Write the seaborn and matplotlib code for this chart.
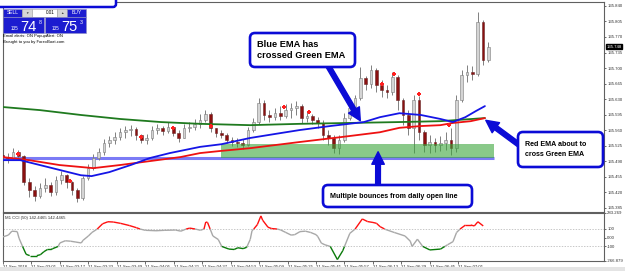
import numpy as np
import matplotlib
matplotlib.use("Agg")
import matplotlib.pyplot as plt
import seaborn as sns
from matplotlib.patches import FancyBboxPatch, Rectangle
from matplotlib.collections import LineCollection
from matplotlib.transforms import IdentityTransform

# ---------------- data ----------------
# 3-minute candles, minutes after 02:45 on 21 Sep 2018
candle_minutes = list(range(0, 276, 3))
opens = [135.503, 135.499, 135.497, 135.510, 135.501, 135.443, 135.424, 135.411, 135.429, 135.436,
         135.420, 135.447, 135.458, 135.443, 135.424, 135.406, 135.452, 135.474, 135.497, 135.510,
         135.531, 135.537, 135.544, 135.555, 135.560, 135.562, 135.549, 135.537, 135.542, 135.560,
         135.565, 135.558, 135.567, 135.553, 135.542, 135.565, 135.567, 135.574, 135.583, 135.596,
         135.565, 135.553, 135.549, 135.537, 135.533, 135.531, 135.526, 135.560, 135.578, 135.621,
         135.594, 135.589, 135.598, 135.592, 135.605, 135.610, 135.614, 135.587, 135.592, 135.583,
         135.576, 135.549, 135.542, 135.519, 135.537, 135.587, 135.610, 135.632, 135.677, 135.664,
         135.696, 135.662, 135.650, 135.646, 135.680, 135.628, 135.594, 135.565, 135.628, 135.555,
         135.526, 135.533, 135.526, 135.531, 135.537, 135.519, 135.628, 135.684, 135.691, 135.686,
         135.804, 135.718]
closes = [135.499, 135.497, 135.510, 135.501, 135.443, 135.424, 135.411, 135.429, 135.436, 135.420,
          135.447, 135.458, 135.443, 135.424, 135.406, 135.452, 135.474, 135.497, 135.510, 135.531,
          135.537, 135.544, 135.555, 135.560, 135.562, 135.549, 135.537, 135.542, 135.560, 135.565,
          135.558, 135.567, 135.553, 135.542, 135.565, 135.567, 135.574, 135.583, 135.596, 135.565,
          135.553, 135.549, 135.537, 135.533, 135.531, 135.526, 135.560, 135.578, 135.621, 135.594,
          135.589, 135.598, 135.592, 135.605, 135.610, 135.614, 135.587, 135.592, 135.583, 135.576,
          135.549, 135.542, 135.519, 135.537, 135.587, 135.610, 135.632, 135.677, 135.664, 135.696,
          135.662, 135.650, 135.646, 135.680, 135.628, 135.594, 135.565, 135.628, 135.555, 135.526,
          135.533, 135.526, 135.531, 135.537, 135.519, 135.628, 135.684, 135.691, 135.686, 135.804,
          135.718, 135.748]
highs = [135.510, 135.508, 135.519, 135.515, 135.504, 135.452, 135.434, 135.440, 135.452, 135.443,
         135.456, 135.467, 135.461, 135.445, 135.429, 135.456, 135.483, 135.506, 135.519, 135.540,
         135.546, 135.555, 135.565, 135.569, 135.571, 135.567, 135.551, 135.551, 135.569, 135.574,
         135.569, 135.578, 135.569, 135.560, 135.574, 135.578, 135.585, 135.596, 135.605, 135.601,
         135.565, 135.560, 135.553, 135.544, 135.542, 135.540, 135.567, 135.587, 135.632, 135.628,
         135.605, 135.610, 135.614, 135.619, 135.621, 135.625, 135.619, 135.601, 135.596, 135.589,
         135.583, 135.560, 135.549, 135.549, 135.598, 135.619, 135.639, 135.702, 135.682, 135.707,
         135.700, 135.673, 135.662, 135.691, 135.684, 135.632, 135.605, 135.639, 135.637, 135.560,
         135.549, 135.542, 135.546, 135.555, 135.565, 135.639, 135.696, 135.707, 135.705, 135.826,
         135.808, 135.759]
lows = [135.488, 135.485, 135.492, 135.492, 135.436, 135.409, 135.400, 135.406, 135.420, 135.411,
        135.413, 135.438, 135.429, 135.413, 135.397, 135.402, 135.447, 135.470, 135.492, 135.504,
        135.522, 135.528, 135.537, 135.542, 135.546, 135.537, 135.531, 135.528, 135.537, 135.551,
        135.549, 135.553, 135.546, 135.533, 135.542, 135.555, 135.560, 135.565, 135.578, 135.555,
        135.544, 135.542, 135.531, 135.524, 135.522, 135.517, 135.524, 135.555, 135.574, 135.583,
        135.578, 135.583, 135.583, 135.587, 135.587, 135.594, 135.576, 135.578, 135.574, 135.565,
        135.537, 135.526, 135.508, 135.506, 135.533, 135.583, 135.605, 135.628, 135.650, 135.655,
        135.646, 135.635, 135.632, 135.639, 135.605, 135.571, 135.549, 135.508, 135.537, 135.510,
        135.508, 135.510, 135.513, 135.515, 135.504, 135.510, 135.623, 135.668, 135.673, 135.682,
        135.707, 135.714]

ema_blue_t = [0, 10, 21, 32, 44, 50, 60, 72, 83, 94, 111, 123, 139, 156, 167, 184, 203, 212, 223, 235, 246, 253, 260, 266, 271]
ema_blue_v = [135.492, 135.492, 135.481, 135.470, 135.458, 135.456, 135.465, 135.481, 135.497, 135.508,
              135.522, 135.528, 135.542, 135.553, 135.560, 135.569, 135.578, 135.589, 135.598, 135.594,
              135.585, 135.578, 135.589, 135.603, 135.614]
ema_red_t = [0, 15, 32, 51, 66, 83, 100, 111, 123, 139, 167, 190, 212, 223, 235, 246, 253, 263, 271]
ema_red_v = [135.499, 135.492, 135.481, 135.474, 135.481, 135.490, 135.499, 135.508, 135.513, 135.519,
             135.533, 135.544, 135.555, 135.565, 135.569, 135.571, 135.576, 135.580, 135.587]
ema_green_t = [0, 21, 44, 66, 89, 111, 139, 167, 195, 223, 246, 271]
ema_green_v = [135.612, 135.605, 135.594, 135.585, 135.578, 135.574, 135.571, 135.574, 135.576, 135.578,
               135.580, 135.587]

daily_open = 135.498
daily_open_end = 276
zone_low, zone_high = 135.497, 135.528
zone_start, zone_end = 123, 276

signal_t = [9, 38, 78, 96, 117, 158, 172, 213, 220, 234, 251]
signal_p = [135.506, 135.445, 135.544, 135.565, 135.569, 135.612, 135.601, 135.664, 135.686, 135.641, 135.571]

cci_t = [0, 3, 5, 8, 9, 11, 13, 15, 19, 21, 23, 25, 27, 28, 31, 32, 35, 38, 41, 44, 45, 48, 50, 53, 56,
         59, 62, 66, 71, 75, 77, 80, 86, 91, 97, 100, 103, 105, 108, 111, 113, 114, 115, 118, 121, 123,
         127, 130, 132, 135, 137, 139, 140, 141, 143, 145, 146, 149, 151, 154, 156, 159, 162, 164, 167,
         170, 173, 176, 177, 179, 181, 184, 188, 191, 195, 198, 202, 205, 208, 210, 212, 215, 220, 226,
         229, 230, 233, 236, 240, 246, 250, 253, 255, 257, 260, 263, 265, 267, 270]
cci_v = [10, 30, 75, 70, -5, -100, -190, -205, -205, -195, -160, -135, -135, -125, -100, -60, -35, -40,
         -50, -60, -30, 20, 60, 100, 160, 183, 180, 165, 140, 115, 100, 85, 80, 85, 88, 75, 100, 110, 100,
         85, 100, 180, 175, 20, -20, -100, -130, -135, -115, -125, -110, -20, 80, 100, 150, 250, 200, 120,
         105, 100, 90, 60, 30, 35, 70, 75, 60, 35, 13, -62, -81, -100, -250, -150, 50, 100, 215, 185, 175,
         165, 127, 95, 60, 20, -40, -100, -17, -100, -140, -130, -80, -45, 60, 100, 145, 145, 135, 183, 135]
cci_min, cci_max = -266.879, 283.269

price_ticks = [135.840, 135.805, 135.770, 135.735, 135.700, 135.665, 135.630, 135.595,
               135.560, 135.525, 135.490, 135.455, 135.420, 135.385]
cci_ticks = [283.269, 100, 0, -100, -266.879]
cci_tick_labels = ["283.269", "100", "0.00", "-100", "-266.879"]
time_ticks = [0, 16, 32, 48, 64, 80, 96, 112, 128, 144, 160, 176, 192, 208, 224, 240, 256]
time_labels = ["21 Sep 2018", "21 Sep 03:01", "21 Sep 03:17", "21 Sep 03:33", "21 Sep 03:49",
               "21 Sep 04:05", "21 Sep 04:21", "21 Sep 04:37", "21 Sep 04:53", "21 Sep 05:09",
               "21 Sep 05:25", "21 Sep 05:41", "21 Sep 05:57", "21 Sep 06:13", "21 Sep 06:29",
               "21 Sep 06:45", "21 Sep 07:01"]

# ---------------- figure ----------------
sns.set_theme(style="white")
plt.rcParams['font.family'] = ['Liberation Sans', 'DejaVu Sans']
W, H = 625, 271
fig = plt.figure(figsize=(W / 100, H / 100), dpi=100)
fig.patch.set_facecolor("white")

def fb(x0, y0, x1, y1):
    return [x0 / W, 1 - y1 / H, (x1 - x0) / W, (y1 - y0) / H]

ax = fig.add_axes(fb(3, 2, 604, 212))
ax2 = fig.add_axes(fb(3, 213, 604, 261))

for a in (ax, ax2):
    a.set_facecolor("white")
    for s in a.spines.values():
        s.set_color("#606060")
        s.set_linewidth(0.8)

SMALL = 3.1

# candles
o = np.array(opens); c = np.array(closes); h = np.array(highs); l = np.array(lows)
t = np.array(candle_minutes)
ax.vlines(t, l, h, color="#808080", lw=0.7, zorder=3)
bull = c >= o
ax.bar(t[bull], np.maximum(c - o, 0.0008)[bull], bottom=o[bull], width=1.5,
       color="#d4d4d4", edgecolor="#7a7a7a", lw=0.4, zorder=4)
ax.bar(t[~bull], np.maximum(o - c, 0.0008)[~bull], bottom=c[~bull], width=1.5,
       color="#8b1010", edgecolor="#6a2a2a", lw=0.4, zorder=4)

# daily open line and bounce zone
ax.hlines(daily_open, 0, daily_open_end, color="#7b7bf5", lw=2.2, zorder=2)
ax.add_patch(Rectangle((zone_start, zone_low), zone_end - zone_start, zone_high - zone_low,
                       facecolor="#3aa53a", alpha=0.6, edgecolor="none", zorder=5))

# EMAs
sns.lineplot(x=ema_green_t, y=ema_green_v, ax=ax, color="#1f7a1f", lw=1.3, zorder=6)
sns.lineplot(x=ema_red_t, y=ema_red_v, ax=ax, color="#ee1111", lw=1.3, zorder=6)
sns.lineplot(x=ema_blue_t, y=ema_blue_v, ax=ax, color="#1515e6", lw=1.3, zorder=7)

# signals
ax.scatter(signal_t, signal_p, marker="P", s=7, color="#ff2020", linewidths=0, zorder=8)

ax.set_xlim(0.3, 337.9)
ax.set_ylim(135.375, 135.849)
ax.set_xticks([])
ax.set_xlabel(""); ax.set_ylabel("")
ax.yaxis.tick_right()
ax.set_yticks(price_ticks)
ax.set_yticklabels([f"{v:.3f}" for v in price_ticks])
ax.tick_params(axis="y", which="both", right=True, length=1.5, width=0.5, pad=0.8,
               labelsize=SMALL, colors="#303030")

# current price label
ax.annotate(f"{closes[-1]:.3f}", xy=(1.0, closes[-1]), xycoords=("axes fraction", "data"),
            xytext=(1.8, 0), textcoords="offset points", ha="left", va="center",
            fontsize=SMALL, color="white",
            bbox=dict(boxstyle="square,pad=0.12", fc="black", ec="black"), zorder=10,
            annotation_clip=False)

# CCI panel
def split_levels(tt, vv, levels=(100, -100)):
    xs = [tt[0]]; ys = [vv[0]]
    for i in range(1, len(tt)):
        t0, t1, v0, v1 = tt[i - 1], tt[i], vv[i - 1], vv[i]
        cr = []
        for L in levels:
            if (v0 - L) * (v1 - L) < 0:
                f = (L - v0) / (v1 - v0)
                cr.append((f, t0 + f * (t1 - t0), L))
        for f, x, y in sorted(cr):
            xs.append(x); ys.append(y)
        xs.append(t1); ys.append(v1)
    return np.array(xs), np.array(ys)

xs, ys = split_levels(cci_t, cci_v)
segs, cols = [], []
for i in range(len(xs) - 1):
    segs.append([(xs[i], ys[i]), (xs[i + 1], ys[i + 1])])
    mid = (ys[i] + ys[i + 1]) / 2
    cols.append("#ff1010" if mid > 100 else ("#0a7a0a" if mid < -100 else "#a8a8a8"))
ax2.add_collection(LineCollection(segs, colors=cols, linewidths=1.0, zorder=3))
for lv in (100, -100):
    ax2.axhline(lv, color="#b0b0b0", lw=0.5, ls=(0, (2, 2)), zorder=1)
ax2.set_xlim(0.3, 337.9)
ax2.set_ylim(cci_min, cci_max)
ax2.yaxis.tick_right()
ax2.set_yticks(cci_ticks)
ax2.set_yticklabels(cci_tick_labels)
ax2.tick_params(axis="y", right=True, length=1.5, width=0.5, pad=0.8, labelsize=SMALL, colors="#303030")
ax2.set_xticks(time_ticks)
ax2.set_xticklabels(time_labels)
ax2.tick_params(axis="x", bottom=True, length=2, width=0.5, pad=1.0, labelsize=SMALL, colors="#303030")
for lab in ax2.get_xticklabels():
    lab.set_horizontalalignment("left")
ax2.text(0.004, 0.93, "M1 CCI (50) 142.4465 142.4465", transform=ax2.transAxes,
         ha="left", va="top", fontsize=SMALL, color="#303030")

# ---------------- annotations ----------------
ID = IdentityTransform()
BLUE = "#0b0bd6"
bold_fam = ["Liberation Sans", "DejaVu Sans"]

def pbox(x0, y0, x1, y1, fc="white", ec=BLUE, lw=1.9, r=5, z=20):
    p = FancyBboxPatch((x0, H - y1), x1 - x0, y1 - y0,
                       boxstyle=f"round,pad=0,rounding_size={r}",
                       transform=ID, fc=fc, ec=ec, lw=lw, zorder=z)
    fig.patches.append(p)

def ptext(x, y, s, **kw):
    fig.text(x, H - y, s, transform=ID, **kw)

arrow_kw = dict(arrowstyle="simple,head_length=1.0,head_width=1.0,tail_width=0.38",
                color=BLUE, shrinkA=0, shrinkB=0, mutation_scale=9)

ax.annotate("", xy=(201, 135.581), xycoords="data", xytext=(327, H - 64),
            textcoords="figure pixels", arrowprops=arrow_kw, annotation_clip=False, zorder=15)
ax.annotate("", xy=(271.5, 135.582), xycoords="data", xytext=(522, H - 147),
            textcoords="figure pixels", arrowprops=arrow_kw, annotation_clip=False, zorder=15)
ax.annotate("", xy=(211, 135.511), xycoords="data", xytext=(378, H - 188),
            textcoords="figure pixels", arrowprops=arrow_kw, annotation_clip=False, zorder=15)

pbox(250, 33, 355, 67)
ptext(257, 50, "Blue EMA has\ncrossed Green EMA", ha="left", va="center", fontsize=6.7,
      fontweight="bold", family=bold_fam, color="black", linespacing=1.3, zorder=21)
pbox(518, 132, 603, 167)
ptext(525, 149.5, "Red EMA about to\ncross Green EMA", ha="left", va="center", fontsize=5.1,
      fontweight="bold", family=bold_fam, color="black", linespacing=1.4, zorder=21)
pbox(323, 185, 472, 207)
ptext(330, 196, "Multiple bounces from daily open line", ha="left", va="center", fontsize=5.1,
      fontweight="bold", family=bold_fam, color="black", zorder=21)

# top-left cut box and trade panel
pbox(-3, -8, 116, 7, lw=1.8, r=3)
BTN = "#1c1cd0"
GRY = "#d6d6d6"
def rect(x0, y0, x1, y1, fc, ec="#9090c0", lw=0.4):
    fig.patches.append(Rectangle((x0, H - y1), x1 - x0, y1 - y0, transform=ID,
                                 fc=fc, ec=ec, lw=lw, zorder=22))
rect(3, 9, 22, 17, BTN)
rect(22, 9, 32, 17, GRY, ec="#a0a0a0")
rect(32, 9, 57, 17, "white", ec="#a0a0a0")
rect(57, 9, 67, 17, GRY, ec="#a0a0a0")
rect(67, 9, 86, 17, BTN)
rect(3, 17, 44, 33, BTN)
rect(45, 17, 86, 33, BTN)
kw = dict(transform=ID, zorder=23)
fig.text(12.5, H - 13, "SELL", ha="center", va="center", fontsize=3.6, color="white", **kw)
fig.text(27, H - 13, "▼", ha="center", va="center", fontsize=2.5, color="#404040", **kw)
fig.text(55, H - 13, "0.01", ha="right", va="center", fontsize=3.3, color="black", **kw)
fig.text(62, H - 13, "▲", ha="center", va="center", fontsize=2.5, color="#404040", **kw)
fig.text(76.5, H - 13, "BUY", ha="center", va="center", fontsize=3.6, color="white", **kw)
fig.text(11, H - 30, "135", ha="left", va="baseline", fontsize=3.3, color="white", **kw)
fig.text(20, H - 31, "74", ha="left", va="baseline", fontsize=10.5, color="white", **kw)
fig.text(38.5, H - 24, "8", ha="left", va="baseline", fontsize=3.8, color="white", **kw)
fig.text(52, H - 30, "135", ha="left", va="baseline", fontsize=3.3, color="white", **kw)
fig.text(61.5, H - 31, "75", ha="left", va="baseline", fontsize=10.5, color="white", **kw)
fig.text(79.5, H - 24, "3", ha="left", va="baseline", fontsize=3.8, color="white", **kw)
fig.text(3, H - 36, "Email alerts: ON PopupAlert: ON", ha="left", va="center", fontsize=3.0,
         color="black", **kw)
fig.text(3, H - 42, "Brought to you by ForexBoat.com", ha="left", va="center", fontsize=3.0,
         color="black", **kw)

# window border strip
fig.patches.append(Rectangle((0, 0), W, 4, transform=ID, fc="#e4e4e4", ec="none", zorder=0))

fig.savefig("out.png", dpi=100, facecolor="white")
